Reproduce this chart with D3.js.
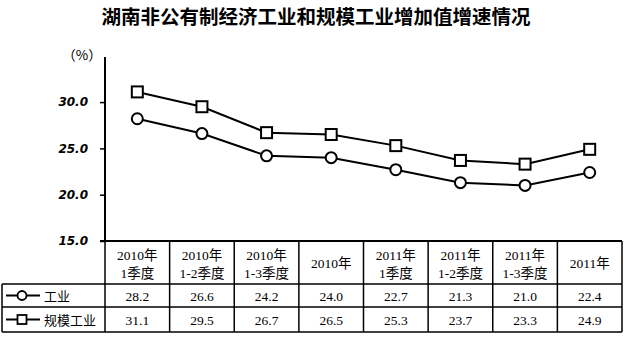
<!DOCTYPE html>
<html><head><meta charset="utf-8">
<script src="https://cdn.jsdelivr.net/npm/d3@7"></script>
<style>body{margin:0;background:#fff}svg{display:block}</style>
</head><body>
<script>
const categories = [["2010年","1季度"],["2010年","1-2季度"],["2010年","1-3季度"],["2010年"],["2011年","1季度"],["2011年","1-2季度"],["2011年","1-3季度"],["2011年"]];
const industry = [28.2,26.6,24.2,24.0,22.7,21.3,21.0,22.4];
const scaleIndustry = [31.1,29.5,26.7,26.5,25.3,23.7,23.3,24.9];
const seriesNames = ["工业","规模工业"];
const yTicks = [15,20,25,30];

const W=624,H=337;
const svg=d3.select("body").append("svg").attr("width",W).attr("height",H);
const x=d3.scaleBand().domain(d3.range(categories.length)).range([105,622]);
const y=d3.scaleLinear().domain([15,35]).range([241,55.8]);
const serif="'Liberation Serif','Noto Sans CJK SC',serif";

svg.append("text").attr("x",316).attr("y",24).attr("text-anchor","middle")
  .attr("font-family","'Noto Sans CJK SC'").attr("font-weight","bold").attr("font-size",19.5)
  .text("湖南非公有制经济工业和规模工业增加值增速情况");
svg.append("text").attr("x",82).attr("y",60).attr("text-anchor","middle")
  .attr("font-family","'Noto Sans CJK SC'").attr("font-size",13.5).text("（%）");

const ax=svg.append("g").attr("transform","translate(105,0)")
  .call(d3.axisLeft(y).tickValues(yTicks).tickFormat(d3.format(".1f")).tickSize(5).tickPadding(12));
ax.select(".domain").remove();
ax.selectAll("line").attr("stroke","#000").attr("stroke-width",1.5);
ax.selectAll("text").attr("font-family","'DejaVu Sans',sans-serif").attr("font-weight","bold")
  .attr("font-style","italic").attr("font-size",12).attr("fill","#000");
svg.append("line").attr("x1",105).attr("x2",105).attr("y1",57).attr("y2",y(15)).attr("stroke","#000").attr("stroke-width",2);

// table
const t=svg.append("g").attr("stroke","#000").attr("stroke-width",1.5);
const rowY=[241,284,307,332];
t.append("line").attr("x1",100).attr("x2",622).attr("y1",rowY[0]).attr("y2",rowY[0]).attr("stroke-width",2);
[1,2,3].forEach(i=>t.append("line").attr("x1",2).attr("x2",622).attr("y1",rowY[i]).attr("y2",rowY[i]));
x.domain().forEach(i=>t.append("line").attr("x1",x(i)).attr("x2",x(i)).attr("y1",rowY[0]).attr("y2",rowY[3]));
t.append("line").attr("x1",622).attr("x2",622).attr("y1",rowY[0]).attr("y2",rowY[3]);
t.append("line").attr("x1",2).attr("x2",2).attr("y1",rowY[1]).attr("y2",rowY[3]);

const cx=i=>x(i)+x.bandwidth()/2;
categories.forEach((c,i)=>{
  const tx=svg.append("text").attr("text-anchor","middle").attr("font-family",serif).attr("font-size",13.5);
  if(c.length===2){
    tx.append("tspan").attr("x",cx(i)).attr("y",260).text(c[0]);
    tx.append("tspan").attr("x",cx(i)).attr("y",278).text(c[1]);
  } else tx.attr("x",cx(i)).attr("y",268).text(c[0]);
});
[industry,scaleIndustry].forEach((vals,r)=>{
  const ty=(rowY[r+1]+rowY[r+2])/2+5.5;
  vals.forEach((v,i)=>svg.append("text").attr("x",cx(i)).attr("y",ty).attr("text-anchor","middle")
    .attr("font-family",serif).attr("font-size",13.5).text(v.toFixed(1)));
  svg.append("text").attr("x",44).attr("y",ty).attr("font-family","'Noto Sans CJK SC'").attr("font-size",13).text(seriesNames[r]);
  const my=(rowY[r+1]+rowY[r+2])/2;
  svg.append("line").attr("x1",6).attr("x2",40).attr("y1",my).attr("y2",my).attr("stroke","#000").attr("stroke-width",2);
  if(r===0) svg.append("circle").attr("cx",22).attr("cy",my).attr("r",4.5).attr("fill","#fff").attr("stroke","#000").attr("stroke-width",1.8);
  else svg.append("rect").attr("x",17.5).attr("y",my-4.5).attr("width",9).attr("height",9).attr("fill","#fff").attr("stroke","#000").attr("stroke-width",1.8);
});

const line=d3.line().x((d,i)=>cx(i)).y(d=>y(d));
[industry,scaleIndustry].forEach(vals=>svg.append("path").datum(vals).attr("d",line)
  .attr("fill","none").attr("stroke","#000").attr("stroke-width",2));
svg.selectAll(".c").data(industry).enter().append("circle").attr("cx",(d,i)=>cx(i)).attr("cy",d=>y(d))
  .attr("r",5.5).attr("fill","#fff").attr("stroke","#000").attr("stroke-width",2);
svg.selectAll(".s").data(scaleIndustry).enter().append("rect").attr("x",(d,i)=>cx(i)-5.5).attr("y",d=>y(d)-5.5)
  .attr("width",11).attr("height",11).attr("fill","#fff").attr("stroke","#000").attr("stroke-width",2);
</script>
</body></html>
